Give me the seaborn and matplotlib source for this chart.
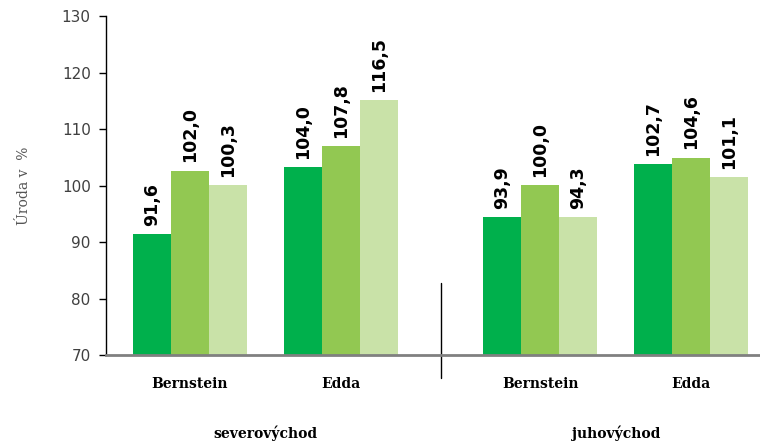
import matplotlib

matplotlib.use("Agg")
import matplotlib.pyplot as plt
import matplotlib.transforms as mtransforms
import numpy as np
import pandas as pd
import seaborn as sns


# Data
regions = ["severovýchod", "severovýchod", "juhovýchod", "juhovýchod"]
varieties = ["Bernstein", "Edda", "Bernstein", "Edda"]
series_names = ["variant 1", "variant 2", "variant 3"]

# bar heights as drawn
bars_v1 = [91.4, 103.3, 94.4, 103.8]
bars_v2 = [102.6, 107.0, 100.1, 104.9]
bars_v3 = [100.1, 115.1, 94.4, 101.5]

# values printed above the bars
labels_v1 = [91.6, 104.0, 93.9, 102.7]
labels_v2 = [102.0, 107.8, 100.0, 104.6]
labels_v3 = [100.3, 116.5, 94.3, 101.1]

y_ticks = [70, 80, 90, 100, 110, 120, 130]

colors = ["#00B04C", "#92C852", "#C9E2A8"]

# Category positions: extra space between the two regions
group_gap = 0.32
region_order = list(dict.fromkeys(regions))
positions = [i + group_gap * region_order.index(r) for i, r in enumerate(regions)]

rows = []
for name, bars, labels in zip(
    series_names, [bars_v1, bars_v2, bars_v3], [labels_v1, labels_v2, labels_v3]
):
    for pos, reg, var, b, lab in zip(positions, regions, varieties, bars, labels):
        rows.append(
            {"pos": pos, "region": reg, "variety": var, "series": name,
             "value": b, "label": lab}
        )
df = pd.DataFrame(rows)

sns.set_style("white")
plt.rcParams["font.family"] = ["DejaVu Sans"]

fig = plt.figure(figsize=(7.6, 4.42), dpi=100)
ax = fig.add_axes([0.1395, 0.1968, 0.8605, 0.767])

sns.barplot(
    data=df,
    x="pos",
    y="value",
    hue="series",
    hue_order=series_names,
    palette=colors,
    native_scale=True,
    width=0.755,
    gap=0,
    saturation=1,
    linewidth=0,
    edgecolor="none",
    legend=False,
    ax=ax,
)

# Data labels, rotated
for container, name in zip(ax.containers, series_names):
    sub = df[df["series"] == name]
    texts = []
    for bar in container:
        cx = bar.get_x() + bar.get_width() / 2
        idx = int(np.argmin([abs(cx - p) for p in positions]))
        val = sub.iloc[idx]["label"]
        texts.append(f"{val:.1f}".replace(".", ","))
    ax.bar_label(
        container,
        labels=texts,
        rotation=90,
        padding=6,
        fontsize=12.5,
        fontweight="bold",
        color="black",
    )

ax.set_ylim(70, 130)
ax.set_yticks(y_ticks)
ax.set_yticklabels([str(t) for t in y_ticks], fontsize=11, color="#404040")
ax.set_xlim(-0.556, 3.775)
ax.set_xticks(positions)
ax.set_xticklabels(
    varieties, fontsize=10, fontweight="bold", family="DejaVu Serif", color="black"
)
ax.tick_params(axis="x", length=0, pad=16)
ax.tick_params(axis="y", direction="out", length=5, width=1, color="black",
               left=True, pad=6)

ax.set_xlabel("")
ax.set_ylabel("Úroda v  %", fontsize=10, family="DejaVu Serif", color="#555555",
              labelpad=22)

for side in ["top", "right"]:
    ax.spines[side].set_visible(False)
ax.spines["left"].set_color("black")
ax.spines["left"].set_linewidth(1)
ax.spines["bottom"].set_color("#808080")
ax.spines["bottom"].set_linewidth(2)
ax.spines["bottom"].set_zorder(5)

# Region labels below the variety labels
trans = mtransforms.blended_transform_factory(ax.transData, ax.transAxes)
for reg in region_order:
    reg_pos = [p for p, r in zip(positions, regions) if r == reg]
    ax.text(
        np.mean(reg_pos), -0.23, reg, transform=trans, ha="center", va="center",
        fontsize=10, fontweight="bold", family="DejaVu Serif", color="black",
    )

# Divider between regions
split = (positions[1] + positions[2]) / 2
ax.plot([split, split], [0.212, -0.068], transform=trans, color="black",
        linewidth=1, clip_on=False)

fig.savefig("out.png", dpi=100)
